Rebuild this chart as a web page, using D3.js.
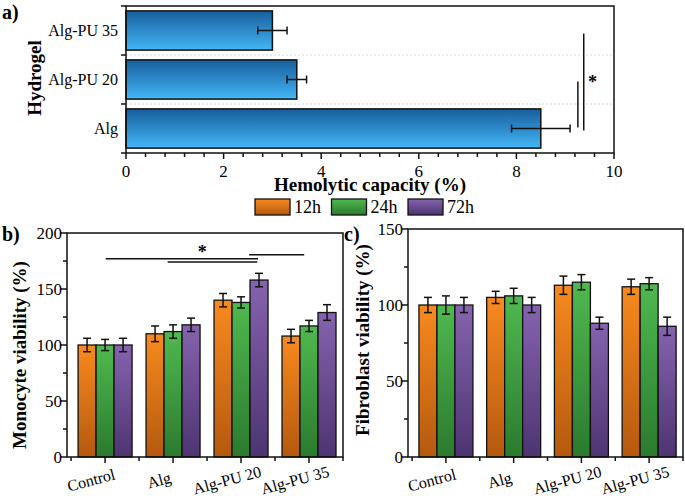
<!DOCTYPE html>
<html><head><meta charset="utf-8">
<script src="https://cdn.jsdelivr.net/npm/d3@7"></script>
<style>body{margin:0;background:#fff}svg{display:block}</style>
</head><body><svg id="c" width="685" height="496"></svg>
<script>
// ---- Data ----
const hydrogels = ["Alg-PU 35", "Alg-PU 20", "Alg"];
const hemolytic = [3.0, 3.5, 8.5];
const hemolyticErr = [0.3, 0.2, 0.6];
const hemoTicks = [0, 2, 4, 6, 8, 10];

const groups = ["Control", "Alg", "Alg-PU 20", "Alg-PU 35"];
const times = ["12h", "24h", "72h"];
const monocyte = [[100, 100, 100], [110, 112, 118], [140, 138, 158], [108, 117, 129]];
const monocyteErr = [[6, 5, 6], [7, 6, 6], [6, 5, 6], [6, 5, 7]];
const monoTicks = [0, 50, 100, 150, 200];
const fibroblast = [[100, 100, 100], [105, 106, 100], [113, 115, 88], [112, 114, 86]];
const fibroblastErr = [[5, 6, 5], [4, 5, 5], [6, 5, 4], [5, 4, 6]];
const fibroTicks = [0, 50, 100, 150];
// significance brackets
const sigA = [{from: 1, to: 2, x: 9.26}, {from: 0, to: 2, x: 9.38}];
const sigB = [{x0: 1.01, x1: 3.25, y: 177}, {x0: 1.92, x1: 3.24, y: 174}, {x0: 3.12, x1: 3.93, y: 180.5}];

const FONT = '"Liberation Serif"';
const svg = d3.select("#c");
function txt(sel) { return sel.append("text").style("font-family", FONT).attr("fill", "#000"); }
const defs = svg.append("defs");
function grad(id, top, bottom) {
  const g = defs.append("linearGradient").attr("id", id).attr("x1", 0).attr("y1", 0).attr("x2", 0).attr("y2", 1);
  g.append("stop").attr("offset", "0%").attr("stop-color", top);
  g.append("stop").attr("offset", "100%").attr("stop-color", bottom);
}
grad("gBlue", "#175e9c", "#44b6f6");
grad("g0", "#f88a1e", "#b5590f");
grad("g1", "#4fb94f", "#2b7a2e");
grad("g2", "#8563ae", "#4e3472");
const fills = ["url(#g0)", "url(#g1)", "url(#g2)"];

// ---------- Panel a ----------
const A = {l: 126, r: 614, t: 6, b: 153};
const xa = d3.scaleLinear().domain([0, 10]).range([A.l, A.r]);
const ya = d3.scaleBand().domain(hydrogels).range([A.t, A.b]).paddingInner(0.2).paddingOuter(0.1);
const pa = svg.append("g");
[1, 2].forEach(k => {
  const y = A.t + ya.step() * k;
  pa.append("line").attr("x1", A.l).attr("x2", A.r).attr("y1", y).attr("y2", y)
    .attr("stroke", "#d8d8d8").attr("stroke-dasharray", "2,2").attr("stroke-width", 1);
});
pa.selectAll("rect.bar").data(hydrogels).enter().append("rect")
  .attr("x", xa(0)).attr("y", d => ya(d)).attr("width", (d, i) => xa(hemolytic[i]) - xa(0))
  .attr("height", ya.bandwidth()).attr("fill", "url(#gBlue)").attr("stroke", "#111").attr("stroke-width", 1.5);
hydrogels.forEach((d, i) => {
  const cy = ya(d) + ya.bandwidth() / 2;
  const x0 = xa(hemolytic[i] - hemolyticErr[i]), x1 = xa(hemolytic[i] + hemolyticErr[i]);
  pa.append("line").attr("x1", x0).attr("x2", x1).attr("y1", cy).attr("y2", cy).attr("stroke", "#111").attr("stroke-width", 1.5);
  [x0, x1].forEach(x => pa.append("line").attr("x1", x).attr("x2", x).attr("y1", cy - 4).attr("y2", cy + 4).attr("stroke", "#111").attr("stroke-width", 1.5));
  txt(pa).attr("x", A.l - 8).attr("y", cy).attr("dy", "0.35em").attr("text-anchor", "end").attr("font-size", 16).text(d);
});
pa.append("rect").attr("x", A.l).attr("y", A.t).attr("width", A.r - A.l).attr("height", A.b - A.t)
  .attr("fill", "none").attr("stroke", "#111").attr("stroke-width", 1.5);
d3.range(0, 10.001, 0.4).forEach(v => {
  const major = hemoTicks.some(t => Math.abs(t - v) < 1e-6);
  pa.append("line").attr("x1", xa(v)).attr("x2", xa(v)).attr("y1", A.b).attr("y2", A.b + (major ? 6 : 4)).attr("stroke", "#111").attr("stroke-width", 1.5);
});
hemoTicks.forEach(t => txt(pa).attr("x", xa(t)).attr("y", A.b + 24).attr("text-anchor", "middle").attr("font-size", 17).text(t));
[0, 1, 2, 3].forEach(k => {
  const y = A.t + ya.step() * k;
  pa.append("line").attr("x1", A.l - 5).attr("x2", A.l).attr("y1", y).attr("y2", y).attr("stroke", "#111").attr("stroke-width", 1.5);
});
txt(pa).attr("x", (A.l + A.r) / 2).attr("y", 191).attr("text-anchor", "middle").attr("font-size", 19).attr("font-weight", "bold").text("Hemolytic capacity (%)");
txt(pa).attr("transform", "translate(41,78) rotate(-90)").attr("text-anchor", "middle").attr("font-size", 19).attr("font-weight", "bold").text("Hydrogel");
txt(pa).attr("x", 2).attr("y", 19).attr("font-size", 20).attr("font-weight", "bold").text("a)");
sigA.forEach(s => {
  const y0 = ya(hydrogels[s.from]) + ya.bandwidth() / 2 + (s.from === 1 ? 2 : 3);
  const y1 = ya(hydrogels[s.to]) + ya.bandwidth() / 2 - (s.from === 1 ? 1 : -2);
  pa.append("line").attr("x1", xa(s.x)).attr("x2", xa(s.x)).attr("y1", y0).attr("y2", y1).attr("stroke", "#111").attr("stroke-width", 1.5);
});
txt(pa).attr("x", xa(9.56)).attr("y", 88).attr("text-anchor", "middle").attr("font-size", 18).attr("font-weight", "bold").text("*");

// ---------- Legend ----------
const lg = svg.append("g");
times.forEach((t, i) => {
  const x = 255 + i * 76.5;
  lg.append("rect").attr("x", x).attr("y", 199).attr("width", 35).attr("height", 16).attr("fill", fills[i]).attr("stroke", "#111").attr("stroke-width", 1.3);
  txt(lg).attr("x", x + 39).attr("y", 213).attr("font-size", 18).text(t);
});

// ---------- Panels b & c ----------
function groupPanel(P, vals, errs, ticks, ymax, title, label, titlePos) {
  const g = svg.append("g");
  const x = d3.scaleLinear().domain([0.44, 4.5]).range([P.l, P.r]);
  const y = d3.scaleLinear().domain([0, ymax]).range([P.b, P.t]);
  const bw = 18;
  groups.forEach((grp, gi) => {
    const cx = x(gi + 1);
    times.forEach((t, ti) => {
      const bx = cx + (ti - 1.5) * bw;
      const v = vals[gi][ti], e = errs[gi][ti];
      g.append("rect").attr("x", bx).attr("y", y(v)).attr("width", bw).attr("height", y(0) - y(v))
        .attr("fill", fills[ti]).attr("stroke", "#111").attr("stroke-width", 1.3);
      const ex = bx + bw / 2;
      g.append("line").attr("x1", ex).attr("x2", ex).attr("y1", y(v - e)).attr("y2", y(v + e)).attr("stroke", "#111").attr("stroke-width", 1.5);
      [v - e, v + e].forEach(w => g.append("line").attr("x1", ex - 4).attr("x2", ex + 4).attr("y1", y(w)).attr("y2", y(w)).attr("stroke", "#111").attr("stroke-width", 1.5));
    });
    txt(g).attr("transform", `translate(${cx - 14},480) rotate(-15)`).attr("dy", "0.35em")
      .attr("text-anchor", "middle").attr("font-size", 16).text(grp);
  });
  g.append("rect").attr("x", P.l).attr("y", P.t).attr("width", P.r - P.l).attr("height", P.b - P.t)
    .attr("fill", "none").attr("stroke", "#111").attr("stroke-width", 1.5);
  d3.range(0.5, 4.51, 0.5).forEach(v => {
    const major = Math.abs(v - Math.round(v)) < 1e-6;
    g.append("line").attr("x1", x(v)).attr("x2", x(v)).attr("y1", P.b).attr("y2", P.b + (major ? 6 : 4)).attr("stroke", "#111").attr("stroke-width", 1.5);
  });
  d3.range(0, ymax + 0.1, 25).forEach(v => {
    const major = v % 50 === 0;
    g.append("line").attr("x1", P.l - (major ? 6 : 4)).attr("x2", P.l).attr("y1", y(v)).attr("y2", y(v)).attr("stroke", "#111").attr("stroke-width", 1.5);
  });
  ticks.forEach(t => txt(g).attr("x", P.l - 5).attr("y", y(t)).attr("dy", "0.35em").attr("text-anchor", "end").attr("font-size", 17).text(t));
  txt(g).attr("transform", `translate(${titlePos[0]},${titlePos[1]}) rotate(-90)`).attr("text-anchor", "middle")
    .attr("font-size", 19).attr("font-weight", "bold").text(title);
  txt(g).attr("x", label[1]).attr("y", label[2]).attr("font-size", 20).attr("font-weight", "bold").text(label[0]);
  return {g, x, y};
}
const B = {l: 67, r: 343, t: 233, b: 457};
const pb = groupPanel(B, monocyte, monocyteErr, monoTicks, 200, "Monocyte viability (%)", ["b)", 2, 241], [26, 355]);
sigB.forEach(s => pb.g.append("line").attr("x1", pb.x(s.x0)).attr("x2", pb.x(s.x1)).attr("y1", pb.y(s.y)).attr("y2", pb.y(s.y)).attr("stroke", "#111").attr("stroke-width", 1.5));
txt(pb.g).attr("x", pb.x(2.43)).attr("y", pb.y(177) - 1).attr("text-anchor", "middle").attr("font-size", 18).attr("font-weight", "bold").text("*");
const C = {l: 408, r: 683, t: 229, b: 457};
groupPanel(C, fibroblast, fibroblastErr, fibroTicks, 150, "Fibroblast viability (%)", ["c)", 344, 241], [369, 340]);
</script></body></html>
